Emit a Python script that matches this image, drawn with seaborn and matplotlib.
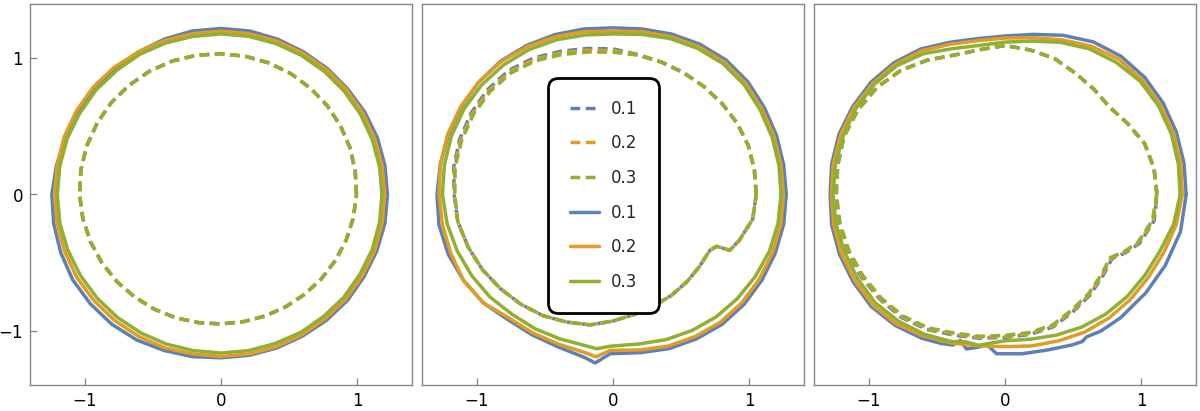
import numpy as np
import matplotlib
matplotlib.use("Agg")
import matplotlib.pyplot as plt
import seaborn as sns

sns.set_theme(style="white")
plt.rcParams["font.family"] = ["DejaVu Sans"]

BLUE = "#5E81B5"
ORANGE = "#E19C24"
GREEN = "#8FB032"
LABELS = ["0.1", "0.2", "0.3"]
TICKS = [-1, 0, 1]
TICK_LABELS = ["\u22121", "0", "1"]

# Each closed curve is stored as radius at a polar angle in degrees.
ANG10 = list(range(0, 360, 10))

# ---------- panel 1 ----------
p1_dash_r = [0.993, 0.999, 1.006, 1.011, 1.016, 1.020, 1.025, 1.029, 1.031, 1.035, 1.039, 1.044,
             1.047, 1.048, 1.050, 1.049, 1.047, 1.043, 1.037, 1.028, 1.018, 1.007, 0.996, 0.984,
             0.974, 0.965, 0.956, 0.951, 0.949, 0.950, 0.952, 0.956, 0.962, 0.969, 0.977, 0.985]
p1_blue_r = [1.22, 1.22, 1.22, 1.215, 1.21, 1.21, 1.21, 1.215, 1.22, 1.22, 1.22, 1.215,
             1.21, 1.21, 1.21, 1.21, 1.215, 1.225, 1.24, 1.245, 1.25, 1.255, 1.25, 1.245,
             1.235, 1.22, 1.21, 1.20, 1.20, 1.20, 1.20, 1.205, 1.21, 1.21, 1.215, 1.22]
p1_orange_r = [1.20, 1.20, 1.20, 1.20, 1.20, 1.20, 1.20, 1.20, 1.20, 1.20, 1.20, 1.205,
               1.21, 1.22, 1.225, 1.225, 1.225, 1.22, 1.22, 1.22, 1.22, 1.22, 1.215, 1.21,
               1.205, 1.20, 1.19, 1.19, 1.19, 1.19, 1.19, 1.19, 1.195, 1.195, 1.20, 1.20]
p1_green_r = [1.18, 1.18, 1.18, 1.18, 1.18, 1.18, 1.18, 1.18, 1.18, 1.18, 1.18, 1.185,
              1.19, 1.19, 1.195, 1.195, 1.20, 1.20, 1.20, 1.20, 1.195, 1.19, 1.185, 1.18,
              1.175, 1.17, 1.165, 1.165, 1.165, 1.165, 1.17, 1.17, 1.175, 1.175, 1.18, 1.18]

# ---------- panel 2 ----------
p2_dash_ang = list(range(0, 340, 10)) + [333.4, 334.4, 340, 350]
p2_dash_blue_r = [1.05, 1.052, 1.055, 1.05, 1.042, 1.036, 1.034, 1.036, 1.045, 1.07, 1.09, 1.12,
                  1.16, 1.19, 1.20, 1.20, 1.195, 1.185, 1.165, 1.155, 1.13, 1.105, 1.077, 1.052,
                  1.028, 0.997, 0.973, 0.93, 0.895, 0.873, 0.856, 0.84, 0.826, 0.82,
                  0.85, 0.949, 0.985, 1.04]
p2_dash_orange_r = [1.05, 1.052, 1.055, 1.05, 1.042, 1.036, 1.034, 1.036, 1.043, 1.058, 1.077, 1.108,
                    1.148, 1.178, 1.189, 1.19, 1.187, 1.18, 1.162, 1.155, 1.13, 1.105, 1.077, 1.052,
                    1.028, 0.997, 0.973, 0.93, 0.895, 0.873, 0.856, 0.84, 0.826, 0.82,
                    0.85, 0.949, 0.985, 1.04]
p2_dash_green_r = [1.05, 1.052, 1.055, 1.05, 1.042, 1.036, 1.034, 1.036, 1.04, 1.046, 1.063, 1.095,
                   1.135, 1.165, 1.177, 1.18, 1.179, 1.175, 1.16, 1.155, 1.13, 1.105, 1.077, 1.052,
                   1.028, 0.997, 0.973, 0.93, 0.895, 0.873, 0.856, 0.84, 0.826, 0.82,
                   0.85, 0.949, 0.985, 1.04]

p2_solid_ang = list(range(0, 270, 10)) + [264, 269] + list(range(280, 360, 10))
p2_blue_r = [1.27, 1.27, 1.275, 1.28, 1.29, 1.29, 1.275, 1.255, 1.235, 1.225, 1.235, 1.25,
             1.265, 1.28, 1.285, 1.285, 1.285, 1.285, 1.29, 1.295, 1.285, 1.265, 1.24, 1.20,
             1.19, 1.19, 1.215, 1.245, 1.17, 1.18, 1.205, 1.225, 1.245, 1.255, 1.26, 1.265, 1.27]
p2_orange_r = [1.25, 1.25, 1.255, 1.26, 1.27, 1.27, 1.255, 1.235, 1.215, 1.20, 1.215, 1.235,
               1.255, 1.275, 1.285, 1.29, 1.29, 1.285, 1.275, 1.27, 1.265, 1.265, 1.24, 1.185,
               1.175, 1.17, 1.18, 1.20, 1.145, 1.16, 1.185, 1.205, 1.225, 1.235, 1.24, 1.245, 1.25]
p2_green_r = [1.232, 1.235, 1.24, 1.245, 1.255, 1.255, 1.24, 1.22, 1.195, 1.18, 1.19, 1.21,
              1.23, 1.245, 1.255, 1.26, 1.26, 1.255, 1.25, 1.235, 1.215, 1.195, 1.175, 1.15,
              1.14, 1.13, 1.13, 1.14, 1.115, 1.115, 1.135, 1.155, 1.175, 1.19, 1.205, 1.22, 1.228]

# ---------- panel 3 ----------
p3_dash_ang = list(range(0, 330, 10)) + [329, 334, 340, 350]
p3_dash_blue_r = [1.115, 1.11, 1.09, 1.04, 1.0, 1.012, 1.03, 1.063, 1.078, 1.095, 1.08, 1.09,
                  1.14, 1.19, 1.225, 1.245, 1.255, 1.245, 1.242, 1.24, 1.23, 1.215, 1.198, 1.18,
                  1.145, 1.10, 1.073, 1.05, 1.045, 1.035, 0.995, 0.967, 0.935, 0.915, 0.98, 1.05, 1.11]
p3_dash_orange_r = [1.113, 1.109, 1.09, 1.04, 1.0, 1.012, 1.03, 1.063, 1.078, 1.095, 1.08, 1.09,
                    1.14, 1.19, 1.225, 1.245, 1.255, 1.245, 1.24, 1.235, 1.224, 1.208, 1.192, 1.173,
                    1.138, 1.092, 1.066, 1.043, 1.038, 1.028, 0.988, 0.96, 0.928, 0.908, 0.972, 1.042, 1.104]
p3_dash_green_r = [1.112, 1.108, 1.09, 1.04, 1.0, 1.012, 1.03, 1.063, 1.078, 1.095, 1.08, 1.09,
                   1.14, 1.19, 1.225, 1.245, 1.255, 1.245, 1.235, 1.228, 1.216, 1.20, 1.184, 1.165,
                   1.13, 1.084, 1.058, 1.035, 1.03, 1.02, 0.98, 0.952, 0.92, 0.90, 0.965, 1.035, 1.097]

p3_blue_ang = list(range(0, 250, 10)) + [247, 251, 253, 256, 260, 263, 267, 276, 285, 294,
                                         297.7, 299.7, 305, 313, 325, 336, 348]
p3_blue_r = [1.328, 1.332, 1.337, 1.34, 1.338, 1.325, 1.295, 1.245, 1.195, 1.165, 1.163, 1.19,
             1.235, 1.265, 1.283, 1.29, 1.295, 1.29, 1.282, 1.29, 1.29, 1.285, 1.28, 1.255, 1.22,
             1.19, 1.17, 1.12, 1.17, 1.14, 1.11, 1.172, 1.177, 1.184, 1.21, 1.22, 1.205, 1.225,
             1.24, 1.26, 1.285, 1.315]
p3_orange_r = [1.30, 1.31, 1.315, 1.315, 1.312, 1.298, 1.26, 1.21, 1.17, 1.15, 1.148, 1.175,
               1.22, 1.25, 1.268, 1.278, 1.283, 1.278, 1.272, 1.275, 1.275, 1.27, 1.265, 1.24,
               1.20, 1.16, 1.13, 1.118, 1.13, 1.145, 1.168, 1.185, 1.20, 1.215, 1.24, 1.275]
p3_green_ang = list(range(0, 260, 10)) + [255, 260, 270, 280, 290, 300, 310, 320, 330, 340, 350]
p3_green_r = [1.284, 1.29, 1.298, 1.30, 1.294, 1.268, 1.236, 1.19, 1.145, 1.12, 1.112, 1.14,
              1.195, 1.235, 1.255, 1.262, 1.262, 1.262, 1.26, 1.258, 1.25, 1.245, 1.24, 1.215,
              1.185, 1.15, 1.12, 1.125, 1.075, 1.08, 1.10, 1.125, 1.148, 1.168, 1.185, 1.21, 1.255]

panels = [
    {"dashed": [(ANG10, p1_dash_r), (ANG10, p1_dash_r), (ANG10, p1_dash_r)],
     "solid": [(ANG10, p1_blue_r), (ANG10, p1_orange_r), (ANG10, p1_green_r)]},
    {"dashed": [(p2_dash_ang, p2_dash_blue_r), (p2_dash_ang, p2_dash_orange_r),
                (p2_dash_ang, p2_dash_green_r)],
     "solid": [(p2_solid_ang, p2_blue_r), (p2_solid_ang, p2_orange_r), (p2_solid_ang, p2_green_r)]},
    {"dashed": [(p3_dash_ang, p3_dash_blue_r), (p3_dash_ang, p3_dash_orange_r),
                (p3_dash_ang, p3_dash_green_r)],
     "solid": [(p3_blue_ang, p3_blue_r), (ANG10, p3_orange_r), (p3_green_ang, p3_green_r)]},
]

colors = [BLUE, ORANGE, GREEN]
LW = 2.5
DASH = (0, (2.8, 1.6))


def to_xy(ang, r):
    # polar -> cartesian, closing the loop
    t = np.deg2rad(np.append(ang, ang[0]))
    rr = np.append(r, r[0])
    return rr * np.cos(t), rr * np.sin(t)


fig = plt.figure(figsize=(12, 4.11), dpi=100)
lefts = [30 / 1200, 422 / 1200, 814 / 1200]
axes = [fig.add_axes([l, 26 / 411, 382 / 1200, 381 / 411]) for l in lefts]

for i, (ax, pan) in enumerate(zip(axes, panels)):
    for kind in ["dashed", "solid"]:
        for (ang, r), c, lab in zip(pan[kind], colors, LABELS):
            xs, ys = to_xy(ang, r)
            sns.lineplot(x=xs, y=ys, sort=False, estimator=None, ax=ax, color=c, label=lab)
            line = ax.lines[-1]
            line.set_linewidth(LW)
            line.set_solid_joinstyle("round")
            if kind == "dashed":
                line.set_linestyle(DASH)

    ax.set_xlim(-1.4, 1.4)
    ax.set_ylim(-1.4, 1.4)
    ax.set_xticks(TICKS)
    ax.set_xticklabels(TICK_LABELS)
    if i == 0:
        ax.set_yticks(TICKS)
        ax.set_yticklabels(TICK_LABELS)
    else:
        ax.set_yticks([])
    ax.tick_params(axis="both", direction="in", length=5, width=1, color="#888888",
                   labelsize=12, pad=5, labelcolor="black",
                   bottom=True, left=(i == 0), top=False, right=False)
    for sp in ax.spines.values():
        sp.set_color("#888888")
        sp.set_linewidth(1.0)
    if ax.get_legend() is not None:
        ax.get_legend().remove()

leg = axes[1].legend(loc="upper left", bbox_to_anchor=(0.33, 0.806), borderaxespad=0,
                     fontsize=12, frameon=True, fancybox=True, framealpha=1,
                     edgecolor="black", labelspacing=1.0, handlelength=1.75,
                     handletextpad=0.7, borderpad=1.3)
leg.get_frame().set_linewidth(2.0)
leg.get_frame().set_boxstyle("round,pad=0,rounding_size=0.6")

fig.savefig("out.png", dpi=100)
